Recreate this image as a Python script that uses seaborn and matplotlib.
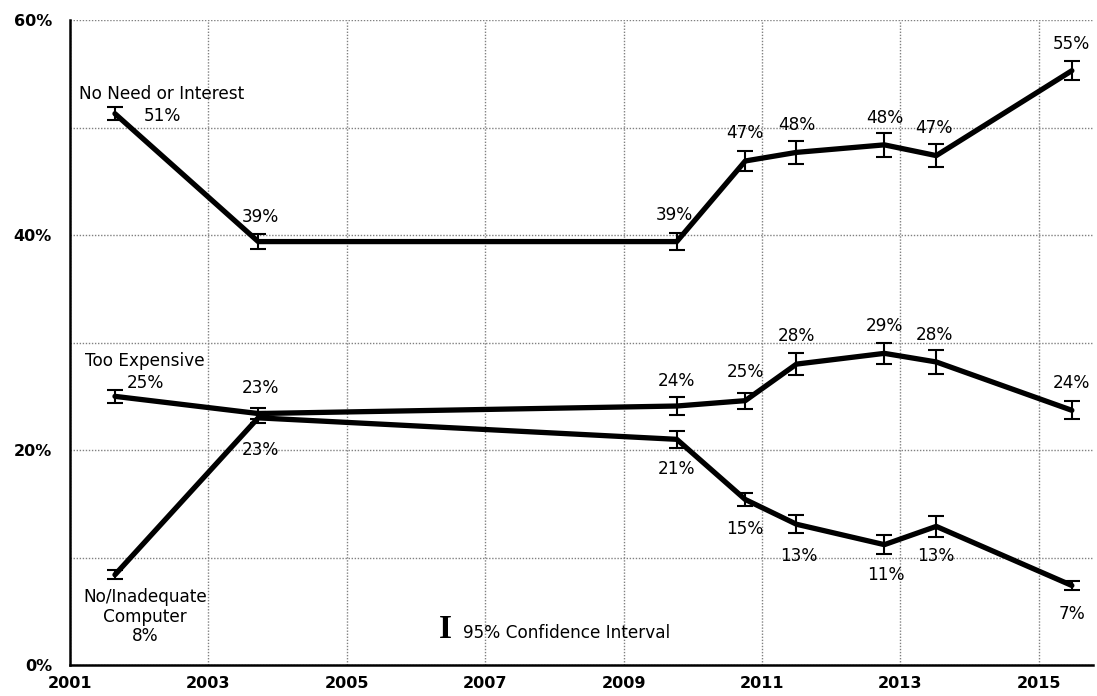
import matplotlib
matplotlib.use("Agg")
import matplotlib.pyplot as plt
import seaborn as sns
import pandas as pd
from matplotlib.ticker import FuncFormatter

# Survey dates (fractional years) and shares of households citing each reason
years = [2001.65, 2003.72, 2009.77, 2010.76, 2011.50, 2012.77, 2013.52, 2015.48]

no_need = [51.3, 39.4, 39.4, 46.9, 47.7, 48.4, 47.4, 55.3]
too_expensive = [25.0, 23.4, 24.1, 24.6, 28.0, 29.0, 28.2, 23.7]
no_computer = [8.4, 23.0, 21.0, 15.4, 13.1, 11.2, 12.9, 7.4]

# 95% confidence interval half-widths (percentage points)
no_need_ci = [0.6, 0.7, 0.8, 0.9, 1.1, 1.1, 1.1, 0.9]
too_expensive_ci = [0.6, 0.5, 0.8, 0.75, 1.0, 0.95, 1.15, 0.85]
no_computer_ci = [0.4, 0.5, 0.8, 0.6, 0.85, 0.9, 0.95, 0.45]

series_names = ["No Need or Interest", "Too Expensive", "No/Inadequate\nComputer"]
x_tick_years = [2001, 2003, 2005, 2007, 2009, 2011, 2013, 2015]

sns.set_style("white")
plt.rcParams["font.family"] = ["DejaVu Sans"]
plt.rcParams["text.color"] = "black"
plt.rcParams["xtick.color"] = "black"
plt.rcParams["ytick.color"] = "black"

df = pd.DataFrame({
    "year": years * 3,
    "share": no_need + too_expensive + no_computer,
    "reason": [series_names[0]] * len(years) + [series_names[1]] * len(years)
              + [series_names[2]] * len(years),
})

fig = plt.figure(figsize=(10.97, 6.96), dpi=100)
ax = fig.add_axes([0.0638, 0.0445, 0.9322, 0.9265])

sns.lineplot(data=df, x="year", y="share", hue="reason",
             palette=["black"] * 3, linewidth=3.8, legend=False, ax=ax,
             zorder=3)

for vals, ci in [(no_need, no_need_ci), (too_expensive, too_expensive_ci),
                 (no_computer, no_computer_ci)]:
    ax.errorbar(years, vals, yerr=ci, fmt="none", ecolor="black",
                elinewidth=1.5, capsize=6, capthick=1.5, zorder=4)

# value labels: pixel offsets from each point
label_font = dict(fontsize=12.2, color="black", ha="center", va="center")
offsets = {
    0: [(47, -2), (2, 25), (-2, 27), (0, 28), (0, 27), (0, 27), (-2, 28), (0, 27)],
    1: [(30, 13), (2, 26), (0, 25), (0, 29), (0, 28), (0, 27), (-2, 27), (0, 27)],
    2: [None, (2, -32), (0, -30), (0, -29), (2, -32), (2, -30), (0, -30), (0, -29)],
}
for s, vals in enumerate([no_need, too_expensive, no_computer]):
    for i, (x, v) in enumerate(zip(years, vals)):
        off = offsets[s][i]
        if off is None:
            continue
        ax.annotate(f"{round(v)}%", (x, v), xytext=off,
                    textcoords="offset pixels", **label_font)

# series names beside the first survey point
ax.annotate(series_names[0], (years[0], no_need[0]), xytext=(47, 20),
            textcoords="offset pixels", **label_font)
ax.annotate(series_names[1], (years[0], too_expensive[0]), xytext=(30, 35),
            textcoords="offset pixels", **label_font)
ax.annotate(f"{series_names[2]}\n{round(no_computer[0])}%",
            (years[0], no_computer[0]), xytext=(30, -42),
            textcoords="offset pixels", linespacing=1.1, **label_font)

# confidence interval key
ax.text(2006.42, 3.35, "I", fontsize=24, fontweight="bold",
        family="Liberation Serif", color="black", ha="center", va="center")
ax.text(2006.68, 3.0, "95% Confidence Interval", fontsize=12.2,
        color="black", ha="left", va="center")

ax.set_xlim(2001, 2015.78)
ax.set_ylim(0, 60)
ax.set_xticks(x_tick_years)
ax.set_xticklabels([str(y) for y in x_tick_years])
ax.set_yticks(range(0, 61, 10))
ax.yaxis.set_major_formatter(FuncFormatter(lambda v, _: f"{int(v)}%" if v % 20 == 0 else ""))
ax.set_xlabel("")
ax.set_ylabel("")

ax.grid(True, linestyle=(0, (1, 1.2)), color="#808080", linewidth=1.0, zorder=0)
for side in ["top", "right"]:
    ax.spines[side].set_visible(False)
for side in ["left", "bottom"]:
    ax.spines[side].set_color("black")
    ax.spines[side].set_linewidth(1.8)

ax.tick_params(axis="both", direction="inout", length=6, width=1.2,
               color="black", labelcolor="black", labelsize=11.5)
ax.tick_params(axis="y", pad=10)
ax.tick_params(axis="x", pad=5)
for lab in ax.get_xticklabels() + ax.get_yticklabels():
    lab.set_fontweight("bold")

fig.savefig("out.png", dpi=100)
